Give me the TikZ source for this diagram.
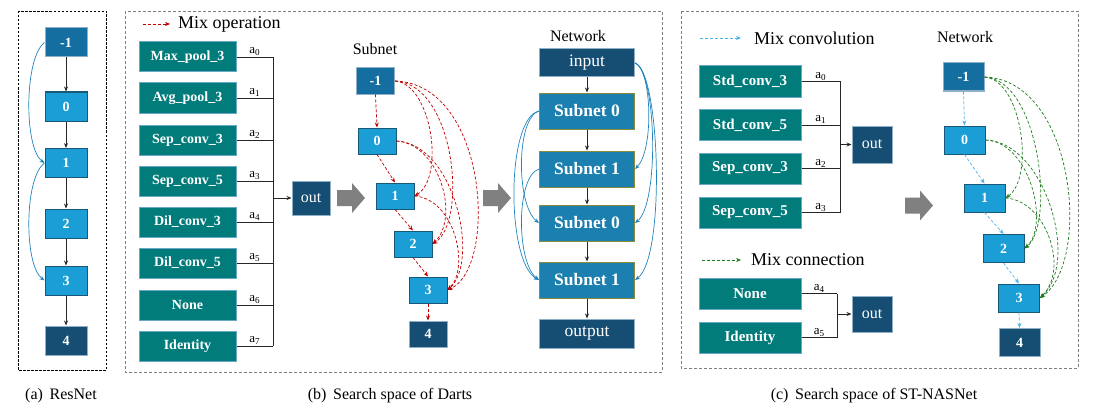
\documentclass[tikz,border=0pt]{standalone}
\usepackage{fontspec}
\setmainfont{Liberation Serif}
\usetikzlibrary{arrows.meta}
\definecolor{cTeal}{HTML}{027B7B}
\definecolor{cTealB}{HTML}{6AA6C6}
\definecolor{cA}{HTML}{146FA0}
\definecolor{cB}{HTML}{1A9ED5}
\definecolor{cN}{HTML}{164E73}
\definecolor{cS}{HTML}{1B80AF}
\definecolor{cOl}{HTML}{8A8C3A}
\definecolor{cEdge}{HTML}{1A5878}
\definecolor{cLight}{HTML}{8FB0C6}
\definecolor{cRed}{HTML}{C00000}
\definecolor{cBlueC}{HTML}{2284BC}
\definecolor{cSky}{HTML}{4AB3E8}
\definecolor{cGreen}{HTML}{1E7A1E}
\definecolor{cGray}{HTML}{808080}
\begin{document}
\begin{tikzpicture}[x=1pt,y=-1pt,
  box/.style={draw, line width=1pt, inner sep=0pt, text=white, align=center},
  op/.style={box, fill=cTeal, draw=cTealB, minimum width=97pt, minimum height=30pt, font=\fontsize{14}{16}\selectfont\bfseries},
  opc/.style={box, fill=cTeal, draw=cTealB, minimum width=102pt, minimum height=31pt, font=\fontsize{15}{17}\selectfont\bfseries},
  cellA/.style={box, fill=cA, draw=cLight, font=\fontsize{14}{16}\selectfont\bfseries},
  cellB/.style={box, fill=cB, draw=cEdge, font=\fontsize{14}{16}\selectfont\bfseries},
  cellN/.style={box, fill=cN, draw=cLight, font=\fontsize{14}{16}\selectfont\bfseries},
  subn/.style={box, fill=cS, draw=cOl, minimum width=95pt, minimum height=36pt, font=\fontsize{17.5}{19}\selectfont\bfseries},
  io/.style={box, fill=cN, draw=cLight, minimum width=95pt, font=\fontsize{17.5}{19}\selectfont},
  outb/.style={box, fill=cN, draw=cLight, font=\fontsize{16}{18}\selectfont},
  arr/.style={-{Stealth[length=5pt,width=4pt]}},
  plainln/.style={line width=0.8pt, draw=black!85},
  panel/.style={draw=gray, dash pattern=on 3pt off 2pt, line width=0.8pt},
  redd/.style={arr, draw=cRed, line width=0.7pt, dash pattern=on 3pt off 2pt},
  skyd/.style={arr, draw=cSky, line width=0.7pt, dash pattern=on 3pt off 2pt},
  greend/.style={arr, draw=cGreen, line width=0.7pt, dash pattern=on 3pt off 2pt},
  skipln/.style={arr, draw=cBlueC, line width=0.7pt},
  lbl/.style={font=\fontsize{13}{14}\selectfont, inner sep=1pt},
  captxt/.style={font=\fontsize{16}{18}\selectfont}
]
\useasboundingbox (0,0) rectangle (1098,420);

% ---------------- (a) ResNet
\draw[draw=black, dash pattern=on 2.5pt off 1.5pt, line width=0.7pt] (18,11) rectangle (106,370);
\begin{scope}[every node/.append style={minimum width=42pt, minimum height=29pt}]
\node[cellA] (am1) at (66,42.5) {-1};
\node[cellB] (a0) at (66,106.5) {0};
\node[cellB] (a1) at (66,163) {1};
\node[cellB] (a2) at (66,223.5) {2};
\node[cellB] (a3) at (66,280.5) {3};
\node[cellN] (a4) at (66,340.5) {4};
\end{scope}
\foreach \u/\v in {am1/a0,a0/a1,a1/a2,a2/a3,a3/a4} \draw[arr,plainln] (\u) -- (\v);
\draw[skipln] (am1.west) .. controls (24,58) and (24,148) .. (a1.west);
\draw[skipln] (a1.west) .. controls (24,178) and (24,265) .. (a3.west);
\node[captxt] (capa) at (61,396) {(a)\, ResNet};

% ---------------- (b) Darts
\draw[panel] (125,11) rectangle (662,372);
\coordinate (lgb1) at (143,24);
\coordinate (lgb2) at (170,24);
\draw[redd] (lgb1) -- (lgb2);
\node[anchor=west, font=\fontsize{18}{20}\selectfont, inner sep=0pt] (lgbt) at (178,24) {Mix operation};

\node[op] (o0) at (187.5,57) {Max\_pool\_3};
\node[op] (o1) at (187.5,98) {Avg\_pool\_3};
\node[op] (o2) at (187.5,140) {Sep\_conv\_3};
\node[op] (o3) at (187.5,181) {Sep\_conv\_5};
\node[op] (o4) at (187.5,222) {Dil\_conv\_3};
\node[op] (o5) at (187.5,263) {Dil\_conv\_5};
\node[op] (o6) at (187.5,305) {None};
\node[op] (o7) at (187.5,346) {Identity};
\coordinate (bx) at (273,0);
\foreach \i in {0,...,7} \draw[plainln] (o\i.east) -- node[lbl, above] {a\textsubscript{\i}} (o\i.east -| bx);
\draw[plainln] (o0.east -| bx) -- (o7.east -| bx);
\node[outb, minimum width=38pt, minimum height=34pt] (bout) at (311,198) {out};
\draw[arr,plainln] (bout.west -| bx) -- (bout.west);

% gray block arrows
\foreach \x/\y in {337/198, 483/198, 905/205.5}
  \fill[cGray] (\x,\y-8) -- (\x+15,\y-8) -- (\x+15,\y-15) -- (\x+28,\y) -- (\x+15,\y+15) -- (\x+15,\y+8) -- (\x,\y+8) -- cycle;

\node[font=\fontsize{16}{18}\selectfont] (sublbl) at (375,49) {Subnet};
\begin{scope}[every node/.append style={minimum width=38pt, minimum height=26pt}]
\node[cellA] (sm1) at (375.5,81) {-1};
\node[cellB] (s0) at (377,141) {0};
\node[cellB] (s1) at (395,196) {1};
\node[cellB] (s2) at (413,244) {2};
\node[cellB] (s3) at (428,290) {3};
\node[cellN] (s4) at (428,334) {4};
\end{scope}
\draw[redd] (sm1.south) -- (s0.north);
\draw[redd] (s0.south) -- (s1.north);
\draw[redd] (s1.south) -- (s2.north);
\draw[redd] (s2.south) -- (s3.north);
\draw[redd] (s3.south) -- (s4.north);
\draw[redd] (sm1.east) .. controls (432,84) and (445,178) .. (s1.east);
\draw[redd] (sm1.east) .. controls (455,84) and (468,222) .. (s2.east);
\draw[redd] (sm1.east) .. controls (488,84) and (498,268) .. (s3.east);
\draw[redd] (s0.east) .. controls (440,144) and (460,218) .. (s2.east);
\draw[redd] (s0.east) .. controls (455,144) and (480,262) .. (s3.east);
\draw[redd] (s1.east) .. controls (455,199) and (470,268) .. (s3.east);

\node[font=\fontsize{16}{18}\selectfont] (netlbl) at (578,36) {Network};
\node[io, minimum height=28pt] (nin) at (587,63) {input};
\node[subn] (ns0) at (587,111) {Subnet 0};
\node[subn] (ns1) at (587,169) {Subnet 1};
\node[subn] (ns2) at (587,223) {Subnet 0};
\node[subn] (ns3) at (587,280) {Subnet 1};
\node[io, minimum height=29pt] (nout) at (587,333.5) {output};
\foreach \u/\v in {nin/ns0,ns0/ns1,ns1/ns2,ns2/ns3,ns3/nout} \draw[arr,plainln] (\u) -- (\v);
\draw[skipln] (nin.east) .. controls (652,70) and (654,150) .. (ns1.east);
\draw[skipln] (nin.east) .. controls (656,70) and (660,203) .. (ns2.east);
\draw[skipln] (nin.east) .. controls (660,70) and (666,258) .. (ns3.east);
\draw[skipln] (ns0.west) .. controls (516,118) and (516,205) .. (ns2.west);
\draw[skipln] (ns0.west) .. controls (506,118) and (506,262) .. (ns3.west);
\draw[skipln] (ns1.west) .. controls (516,176) and (516,262) .. (ns3.west);

\node[captxt] (capb) at (390,396) {(b)\, Search space of Darts};

% ---------------- (c) ST-NASNet
\draw[panel] (681,11) rectangle (1078,368);
\coordinate (lgc1) at (700,38);
\coordinate (lgc2) at (741,38);
\draw[skyd] (lgc1) -- (lgc2);
\node[anchor=west, font=\fontsize{18}{20}\selectfont, inner sep=0pt] (lgct) at (754,38) {Mix convolution};

\node[opc] (c0) at (750,81.5) {Std\_conv\_3};
\node[opc] (c1) at (750,125) {Std\_conv\_5};
\node[opc] (c2) at (750,168.5) {Sep\_conv\_3};
\node[opc] (c3) at (750,212.5) {Sep\_conv\_5};
\coordinate (cx) at (840,0);
\foreach \i in {0,...,3} \draw[plainln] (c\i.east) -- node[lbl, above] {a\textsubscript{\i}} (c\i.east -| cx);
\draw[plainln] (c0.east -| cx) -- (c3.east -| cx);
\node[outb, minimum width=40pt, minimum height=37pt] (cout1) at (872,144.5) {out};
\draw[arr,plainln] (cout1.west -| cx) -- (cout1.west);

\coordinate (lgd1) at (702,260);
\coordinate (lgd2) at (741,260);
\draw[greend] (lgd1) -- (lgd2);
\node[anchor=west, font=\fontsize{18}{20}\selectfont, inner sep=0pt] (lgdt) at (751,260) {Mix connection};

\node[opc] (c4) at (750,293.5) {None};
\node[opc] (c5) at (750,337.5) {Identity};
\coordinate (dx) at (837,0);
\foreach \i in {4,5} \draw[plainln] (c\i.east) -- node[lbl, above] {a\textsubscript{\i}} (c\i.east -| dx);
\draw[plainln] (c4.east -| dx) -- (c5.east -| dx);
\node[outb, minimum width=40pt, minimum height=36pt] (cout2) at (872,314) {out};
\draw[arr,plainln] (cout2.west -| dx) -- (cout2.west);

\node[font=\fontsize{16}{18}\selectfont] (netlblc) at (965,37) {Network};
\begin{scope}[every node/.append style={minimum width=41pt, minimum height=28pt}]
\node[cellA] (tm1) at (963.5,77) {-1};
\node[cellB] (t0) at (964.5,140) {0};
\node[cellB] (t1) at (984.5,198) {1};
\node[cellB] (t2) at (1003.5,248.5) {2};
\node[cellB] (t3) at (1019,298) {3};
\node[cellN] (t4) at (1019.5,342.5) {4};
\end{scope}
\draw[skyd] (tm1.south) -- (t0.north);
\draw[skyd] (t0.south) -- (t1.north);
\draw[skyd] (t1.south) -- (t2.north);
\draw[skyd] (t2.south) -- (t3.north);
\draw[skyd] (t3.south) -- (t4.north);
\draw[greend] (tm1.east) .. controls (1022,80) and (1035,178) .. (t1.east);
\draw[greend] (tm1.east) .. controls (1040,80) and (1055,225) .. (t2.east);
\draw[greend] (tm1.east) .. controls (1075,80) and (1092,262) .. (t3.east);
\draw[greend] (t0.east) .. controls (1030,142) and (1050,225) .. (t2.east);
\draw[greend] (t0.east) .. controls (1045,142) and (1080,262) .. (t3.east);
\draw[greend] (t1.east) .. controls (1045,200) and (1070,268) .. (t3.east);

\node[captxt] (capc) at (874,396) {(c)\, Search space of ST-NASNet};
\end{tikzpicture}
\end{document}
